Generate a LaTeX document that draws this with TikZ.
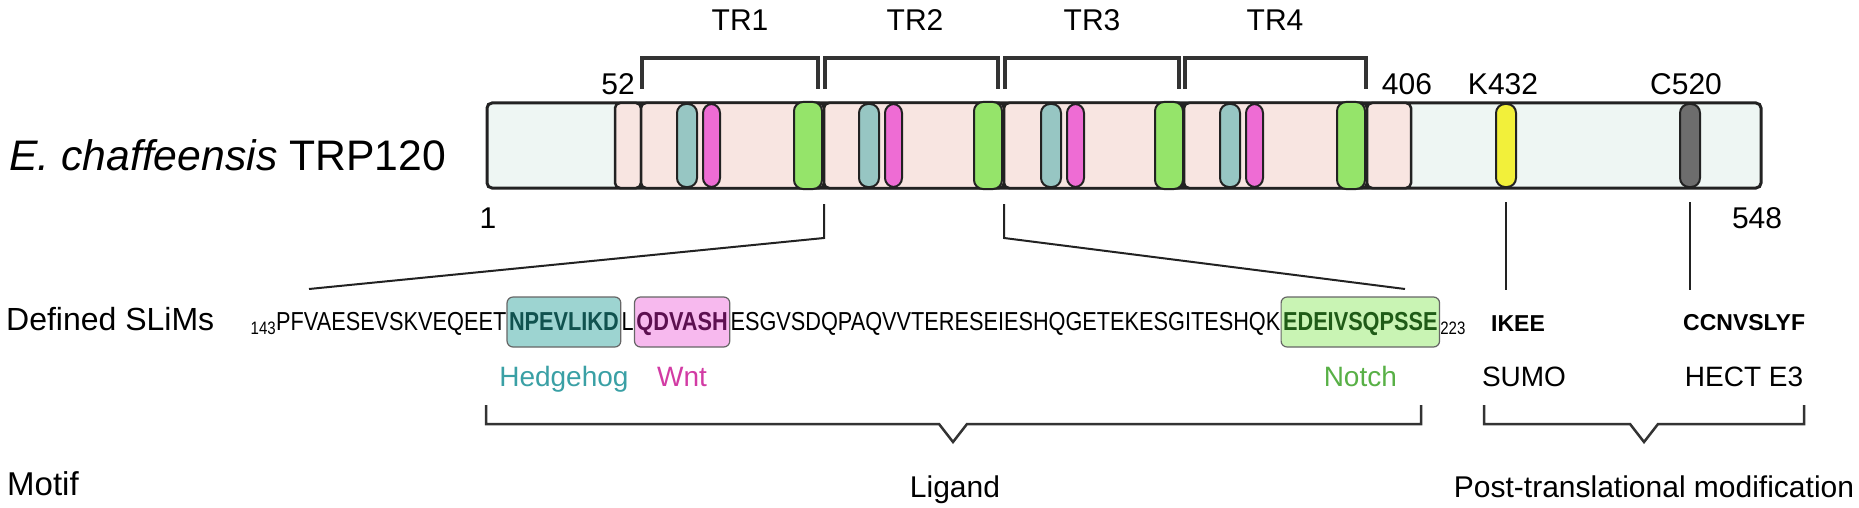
\documentclass[tikz,border=0pt]{standalone}
\usepackage{fontspec}
\setmainfont{Liberation Sans}
\newfontfamily\seqfont[FakeStretch=0.835]{Liberation Sans}
\definecolor{barfill}{HTML}{EEF6F3}
\definecolor{trfill}{HTML}{F8E5E1}
\definecolor{tealpill}{HTML}{97C6C3}
\definecolor{magpill}{HTML}{EE6CD4}
\definecolor{greenpill}{HTML}{95E46A}
\definecolor{yellowpill}{HTML}{F2F03A}
\definecolor{graypill}{HTML}{6D6D6D}
\definecolor{hhbox}{HTML}{9DD4D1}
\definecolor{hhtext}{HTML}{10524F}
\definecolor{hhlab}{HTML}{3AA0A5}
\definecolor{wntbox}{HTML}{F7B9EE}
\definecolor{wnttext}{HTML}{5C1050}
\definecolor{wntlab}{HTML}{D23BA4}
\definecolor{nobox}{HTML}{C9F4B4}
\definecolor{notext}{HTML}{1F5B17}
\definecolor{nolab}{HTML}{58B046}
\definecolor{ink}{HTML}{222222}
\definecolor{brk}{HTML}{333333}
\tikzset{
  seg/.style={draw=ink, line width=2.5pt, fill=trfill, rounded corners=5pt},
  pill/.style={draw=ink, line width=2pt, rounded corners=9pt},
  trbr/.style={draw=brk, line width=4pt},
  grpbr/.style={draw=brk, line width=2.5pt},
  conn/.style={draw=ink, line width=2pt},
  lab/.style={inner sep=0pt, font=\fontsize{30}{34}\selectfont},
  seqtxt/.style={inner sep=0pt, anchor=base west, font=\seqfont\fontsize{26}{30}\selectfont},
  seqbox/.style={inner xsep=2pt, inner ysep=0pt, text height=33pt, text depth=17pt, anchor=base west, rounded corners=6pt, draw=gray!80!black, line width=1.2pt, font=\seqfont\bfseries\fontsize{26}{30}\selectfont},
}
\begin{document}
\begin{tikzpicture}[x=1pt,y=-1pt]
\useasboundingbox (0,0) rectangle (1859,508);
% main bar
\draw[draw=ink, line width=3pt, fill=barfill, rounded corners=5pt] (487,103) rectangle (1761,188);
% TR segments
\draw[seg] (615,103) rectangle (641,188);
\draw[seg] (641,103) rectangle (824,188);
\draw[seg] (824,103) rectangle (1004,188);
\draw[seg] (1004,103) rectangle (1184,188);
\draw[seg] (1184,103) rectangle (1367,188);
\draw[seg] (1367,103) rectangle (1411,188);
% motif pills
\foreach \t/\m/\g in {677/703/794, 859/885/974, 1041/1067/1155, 1220/1246/1337}{
  \draw[pill, fill=tealpill] (\t,104) rectangle ++(20,83);
  \draw[pill, fill=magpill] (\m,104) rectangle ++(17,83);
  \draw[pill, fill=greenpill] (\g,102) rectangle ++(28,87);
}
\draw[pill, fill=yellowpill] (1496,104) rectangle (1516,187);
\draw[pill, fill=graypill] (1680,104) rectangle (1700,187);
% TR brackets
\draw[trbr] (642,89) -- (642,58) -- (818,58) -- (818,89);
\draw[trbr] (825,89) -- (825,58) -- (998,58) -- (998,89);
\draw[trbr] (1005,89) -- (1005,58) -- (1179,58) -- (1179,89);
\draw[trbr] (1185,89) -- (1185,58) -- (1366,58) -- (1366,89);
\node[lab, anchor=base] (tr1) at (740,31) {TR1};
\node[lab, anchor=base] (tr2) at (915,31) {TR2};
\node[lab, anchor=base] (tr3) at (1092,31) {TR3};
\node[lab, anchor=base] (tr4) at (1275,31) {TR4};
% position labels
\node[lab, anchor=base] (p52) at (618,95) {52};
\node[lab, anchor=base] (p406) at (1407,95) {406};
\node[lab, anchor=base] (k432) at (1503,95) {K432};
\node[lab, anchor=base] (c520) at (1686,95) {C520};
\node[lab, anchor=base] (p1) at (488,228) {1};
\node[lab, anchor=base] (p548) at (1757,228) {548};
% title
\node[inner sep=0pt, anchor=base west, font=\fontsize{42.7}{48}\selectfont] (title) at (9,170) {\textit{E. chaffeensis} TRP120};
% row labels
\node[inner sep=0pt, anchor=base west, font=\fontsize{32}{36}\selectfont] (slims) at (6,330) {Defined SLiMs};
\node[inner sep=0pt, anchor=base west, font=\fontsize{33}{36}\selectfont] (motif) at (7,495) {Motif};
% sequence
\node[seqtxt] (s1) at (276,330) {PFVAESEVSKVEQEET};
\node[inner sep=0pt, anchor=base east, font=\seqfont\fontsize{18}{20}\selectfont] (n143) at ([yshift=-4pt]s1.base west) {143};
\node[seqbox, fill=hhbox, text=hhtext] (hh) at (s1.base east) {NPEVLIKD};
\node[seqtxt] (s2) at (hh.base east) {L};
\node[seqbox, fill=wntbox, text=wnttext] (wnt) at (s2.base east) {QDVASH};
\node[seqtxt] (s3) at (wnt.base east) {ESGVSDQPAQVVTERESEIESHQGETEKESGITESHQK};
\node[seqbox, fill=nobox, text=notext] (no) at (s3.base east) {EDEIVSQPSSE};
\node[inner sep=0pt, anchor=base west, font=\seqfont\fontsize{18}{20}\selectfont] (n223) at ([yshift=-4pt]no.base east) {223};
\node[inner sep=0pt, anchor=base west, font=\bfseries\fontsize{23}{26}\selectfont] (ikee) at (1491,331) {IKEE};
\node[inner sep=0pt, anchor=base west, font=\bfseries\fontsize{23}{26}\selectfont] (ccn) at (1683,330) {CCNVSLYF};
% motif names
\node[inner sep=0pt, anchor=base, text=hhlab, font=\fontsize{28}{32}\selectfont] (lhh) at (hh.center |- 0,386) {Hedgehog};
\node[inner sep=0pt, anchor=base, text=wntlab, font=\fontsize{28}{32}\selectfont] (lwnt) at (wnt.center |- 0,386) {Wnt};
\node[inner sep=0pt, anchor=base, text=nolab, font=\fontsize{28}{32}\selectfont] (lno) at (no.center |- 0,386) {Notch};
\node[inner sep=0pt, anchor=base, font=\fontsize{28}{32}\selectfont] (sumo) at (1524,386) {SUMO};
\node[inner sep=0pt, anchor=base, font=\fontsize{28}{32}\selectfont] (hect) at (1744,386) {HECT E3};
% connectors
\coordinate (a1) at (824,204);
\coordinate (a2) at (824,238);
\coordinate (a3) at (309,289);
\coordinate (b1) at (1004,204);
\coordinate (b2) at (1004,238);
\coordinate (b3) at (1405,289);
\draw[conn] (a1) -- (a2) -- (a3);
\draw[conn] (b1) -- (b2) -- (b3);
\coordinate (k1) at (1506,202);
\coordinate (k2) at (1506,290);
\coordinate (c1) at (1690,202);
\coordinate (c2) at (1690,290);
\draw[conn] (k1) -- (k2);
\draw[conn] (c1) -- (c2);
% group brackets
\draw[grpbr] (486,405) -- (486,424) -- (939,424) -- (953,442) -- (967,424) -- (1421,424) -- (1421,405);
\draw[grpbr] (1484,405) -- (1484,424) -- (1630,424) -- (1644,442) -- (1658,424) -- (1804,424) -- (1804,405);
\node[lab, anchor=base] (lig) at (955,497) {Ligand};
\node[lab, anchor=base] (ptm) at (1654,497) {Post-translational modification};
\end{tikzpicture}
\end{document}
